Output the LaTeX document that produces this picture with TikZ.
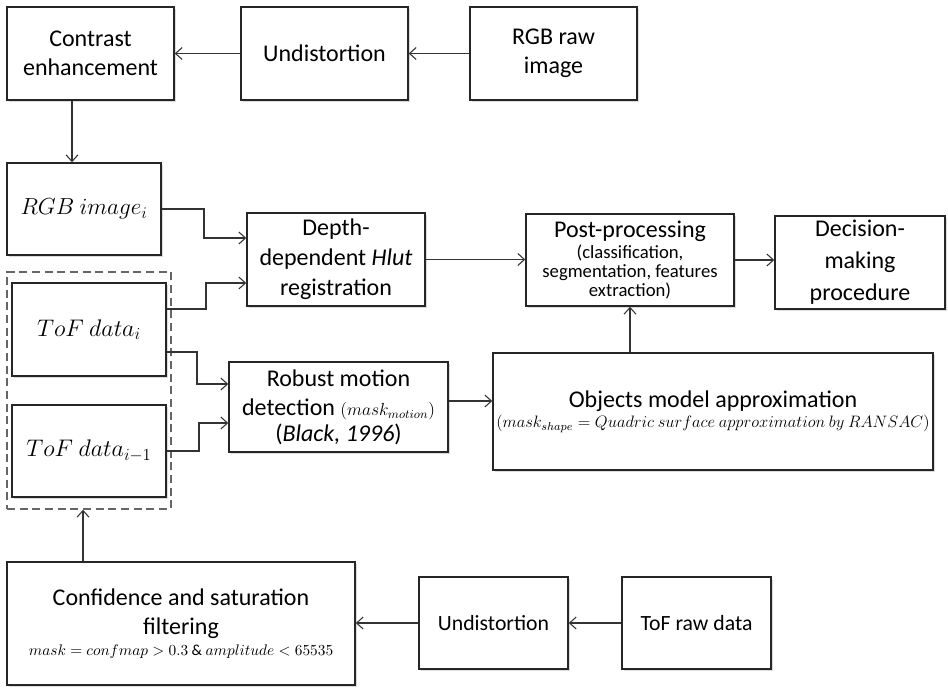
\RequirePackage{fix-cm}
\documentclass[tikz,border=0pt]{standalone}
\usepackage{fontspec}
\setmainfont{Carlito}
\usetikzlibrary{arrows.meta,shadows}
\setlength{\lineskiplimit}{-20pt}
\newcommand\notefont{\fontsize{14}{13.5}\selectfont}

\begin{document}
\begin{tikzpicture}[x=0.75pt,y=-0.75pt,
  box/.style={draw=black!85, line width=1.1pt, fill=white, inner sep=0pt,
    align=center, font=\fontsize{18}{22}\selectfont,
    drop shadow={shadow xshift=1.5pt, shadow yshift=-1.5pt, fill=black!28}},
  link/.style={draw=black!80, line width=0.8pt,
    -{Straight Barb[length=5pt,width=9pt]}},
  group/.style={draw=black!60, line width=1.1pt, dash pattern=on 6pt off 3.5pt,
    inner sep=0pt}]

\useasboundingbox (0,0) rectangle (948,687);

% RGB branch
\node[box, minimum width=125.25pt, minimum height=69.75pt] (ce) at (90.5,53.5) {Contrast\\enhancement};
\node[box, minimum width=125.25pt, minimum height=69.75pt] (ut) at (324.5,53.5) {Undistortion};
\node[box, minimum width=125.25pt, minimum height=69.75pt] (rgbraw) at (553.5,53.5) {RGB raw\\image};
\node[box, minimum width=115.5pt, minimum height=69pt, font=\fontsize{17.4}{22}\selectfont] (rgbi) at (84,209) {$RGB\ image_i$};

% ToF frames
\node[group, minimum width=123pt, minimum height=177.75pt] (tofgroup) at (89,390.5) {};
\node[box, minimum width=115.5pt, minimum height=69.75pt, font=\fontsize{18}{22}\selectfont] (tofi) at (89,329.5) {$ToF\ data_i$};
\node[box, minimum width=115.5pt, minimum height=69pt, font=\fontsize{18}{22}\selectfont] (tofp) at (89,451) {$ToF\ data_{i-1}$};

% processing
\node[box, minimum width=133.5pt, minimum height=69.75pt, font=\fontsize{18}{22.5}\selectfont] (depth) at (336,259.5)
  {Depth-\\dependent \textit{Hlut}\\registration};
\node[box, minimum width=164.25pt, minimum height=67.5pt] (robust) at (338.5,407)
  {Robust motion\\detection {\fontsize{13.1}{14}\selectfont$(mask_{motion})$}\\[-3pt](\textit{Black, 1996})};
\node[box, minimum width=156pt, minimum height=69pt] (post) at (630,260)
  {Post-processing\\[-6.5pt] \notefont (classification,\\[-7.75pt] \notefont segmentation, features\\[-7.75pt] \notefont extraction)};
\node[box, minimum width=127.5pt, minimum height=69.75pt, font=\fontsize{18}{24}\selectfont] (dec) at (860,262.5)
  {Decision-\\making\\procedure};
\node[box, minimum width=330pt, minimum height=87.75pt] (obj) at (713,411.5)
  {Objects model approximation\\[-6.5pt] \fontsize{12.4}{19}\selectfont
   $(mask_{shape} = Quadric\ surface\ approximation\ by\ RANSAC)$};

% ToF branch
\node[box, minimum width=261pt, minimum height=92.25pt] (conf) at (181,623.5)
  {Confidence and saturation\\[-0.5pt]filtering\\[-6pt] \fontsize{11.5}{19}\selectfont
   $mask = confmap > 0.3 \mathbin{\&} amplitude < 65535$};
\node[box, minimum width=111.75pt, minimum height=69pt, font=\fontsize{16.3}{19}\selectfont] (ub) at (493.5,623) {Undistortion};
\node[box, minimum width=111.75pt, minimum height=69pt, font=\fontsize{16.3}{19}\selectfont] (tofraw) at (696.5,623) {ToF raw data};

% connectors
\draw[link] (rgbraw.west) -- (ut.east);
\draw[link] (ut.west) -- (ce.east);
\draw[link] (ce.south -| 72,0) -- (rgbi.north -| 72,0);
\draw[link] (rgbi.east) -| (204,238) -- (depth.west |- 0,238);
\draw[link] (tofi.east |- 0,309) -| (206,283) -- (depth.west |- 0,283);
\draw[link] (tofi.east |- 0,352) -| (197,384) -- (robust.west |- 0,384);
\draw[link] (tofp.east) -| (199,423) -- (robust.west |- 0,423);
\draw[link] (robust.east |- 0,401) -- (obj.west |- 0,401);
\draw[link] (depth.east) -- (post.west |- depth.east);
\draw[link] (post.east) -- (dec.west |- post.east);
\draw[link] (obj.north -| post.south) -- (post.south);
\draw[link] (tofraw.west) -- (ub.east);
\draw[link] (ub.west) -- (conf.east |- ub.west);
\draw[link] (conf.north -| 83,0) -- (tofgroup.south -| 83,0);

\end{tikzpicture}
\end{document}
